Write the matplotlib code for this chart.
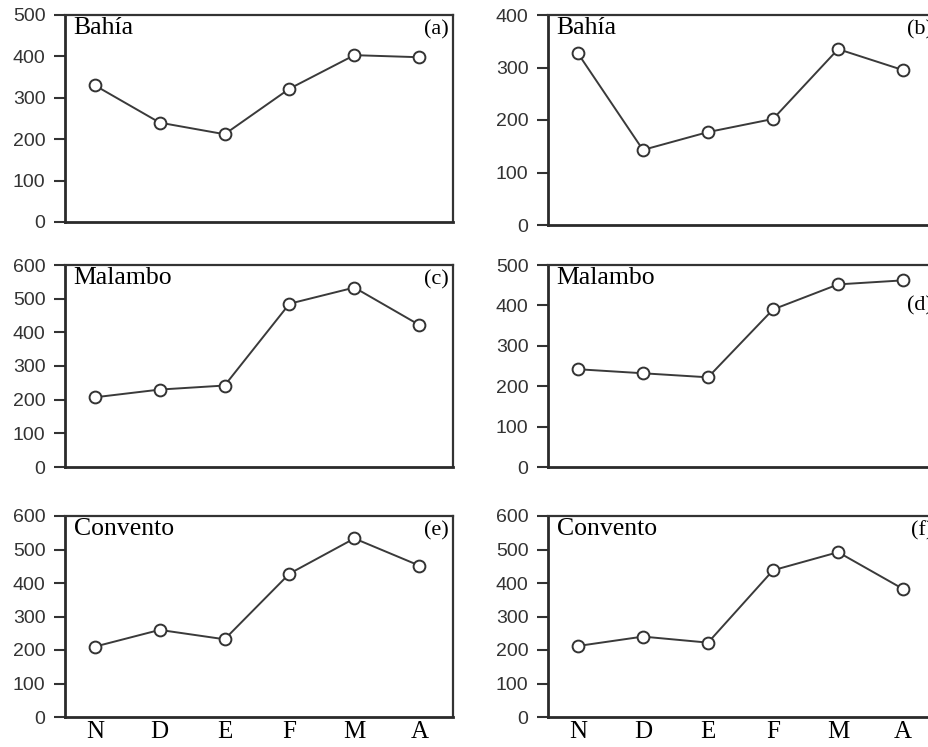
import matplotlib.pyplot as plt

months = ['N', 'D', 'E', 'F', 'M', 'A']

bahia_a = [330, 240, 212, 322, 403, 398]
bahia_b = [327, 143, 177, 202, 335, 295]
malambo_c = [207, 230, 242, 485, 533, 422]
malambo_d = [242, 232, 222, 390, 452, 462]
convento_e = [210, 260, 232, 428, 533, 452]
convento_f = [212, 240, 222, 438, 492, 382]

W, H = 929, 747
fig = plt.figure(figsize=(W / 100, H / 100), dpi=100)

def make_ax(x0, x1, ytop, ybot):
    return fig.add_axes([x0 / W, 1 - ybot / H, (x1 - x0) / W, (ybot - ytop) / H])

# right column is cropped at the figure edge, as in the source
panels = [
    (bahia_a, 'Bahía', '(a)', 500, 65, 453, 15, 222, 0.975),
    (bahia_b, 'Bahía', '(b)', 400, 548, 937, 15, 225, 0.975),
    (malambo_c, 'Malambo', '(c)', 600, 65, 453, 265, 467, 0.975),
    (malambo_d, 'Malambo', '(d)', 500, 548, 937, 265, 467, 0.845),
    (convento_e, 'Convento', '(e)', 600, 65, 453, 516, 717, 0.975),
    (convento_f, 'Convento', '(f)', 600, 548, 937, 516, 717, 0.975),
]

for i, (vals, name, tag, ymax, x0, x1, yt, yb, tag_y) in enumerate(panels):
    ax = make_ax(x0, x1, yt, yb)
    ax.plot(range(len(months)), vals, color='#3a3a3a', lw=1.4, marker='o',
            ms=8.5, mfc='white', mec='#333333', mew=1.4)
    ax.set_xlim(-0.46, 5.52)
    ax.set_ylim(0, ymax)
    ax.set_yticks(range(0, ymax + 1, 100))
    ax.tick_params(axis='y', labelsize=14, length=8, width=1.5, colors='#333333',
                   labelcolor='#333333', pad=6)
    for lab in ax.get_yticklabels():
        lab.set_family('Liberation Sans')
    ax.set_xticks(range(len(months)))
    if i >= 4:
        ax.set_xticklabels(months, family='Liberation Serif', fontsize=18)
        ax.tick_params(axis='x', length=0, pad=3)
    else:
        ax.set_xticklabels([])
        ax.tick_params(axis='x', length=0)
    for s in ['left', 'bottom']:
        ax.spines[s].set_linewidth(2)
        ax.spines[s].set_color('#2a2a2a')
    for s in ['top', 'right']:
        ax.spines[s].set_linewidth(1.6)
        ax.spines[s].set_color('#333333')
    ax.text(0.022, 0.99, name, transform=ax.transAxes, ha='left', va='top',
            family='Liberation Serif', fontsize=18.5)
    ax.text(0.99, tag_y, tag, transform=ax.transAxes, ha='right', va='top',
            family='Liberation Serif', fontsize=16)

fig.savefig('out.png', dpi=100)
